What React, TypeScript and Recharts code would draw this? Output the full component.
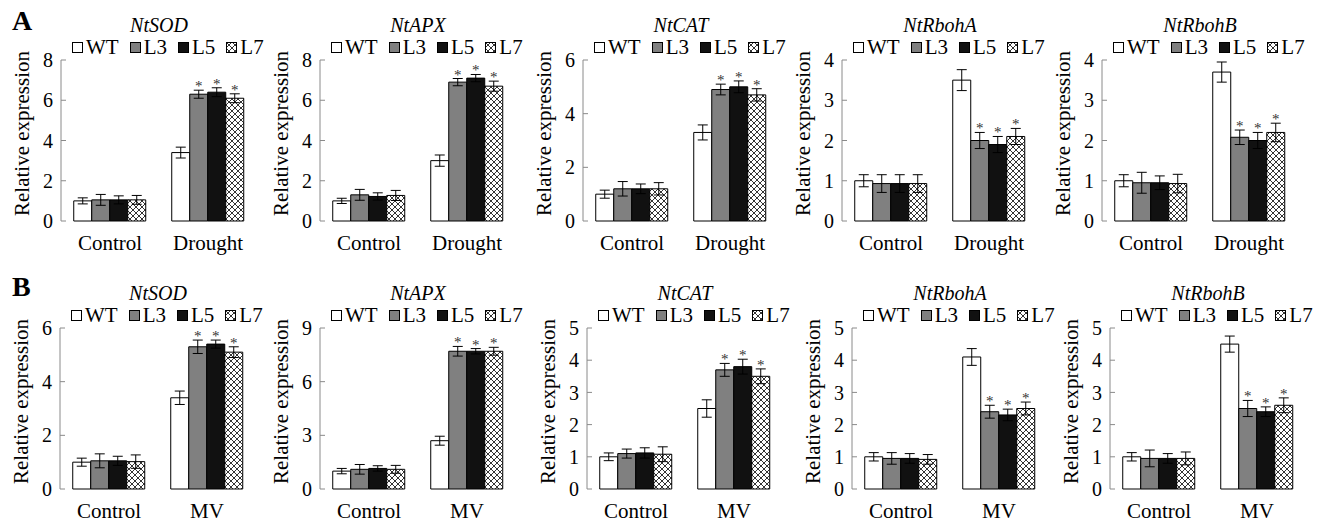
import React from "react";
import { BarChart, Bar, XAxis, YAxis, ErrorBar, LabelList, Legend } from "recharts";

const lines = ["WT", "L3", "L5", "L7"];
const genes = ["NtSOD", "NtAPX", "NtCAT", "NtRbohA", "NtRbohB"];
const starred = ["L3", "L5", "L7"];

// panel A, drought stress (rows = genes, cols = WT, L3, L5, L7)
const droughtCtrlMean = [
  [1.0, 1.05, 1.05, 1.05],
  [1.0, 1.3, 1.22, 1.27],
  [1.0, 1.2, 1.2, 1.2],
  [1.0, 0.93, 0.93, 0.93],
  [1.0, 0.95, 0.95, 0.93],
];
const droughtCtrlErr = [
  [0.15, 0.27, 0.2, 0.22],
  [0.13, 0.27, 0.18, 0.25],
  [0.15, 0.27, 0.18, 0.23],
  [0.15, 0.22, 0.22, 0.22],
  [0.15, 0.26, 0.17, 0.23],
];
const droughtMean = [
  [3.4, 6.3, 6.4, 6.1],
  [3.0, 6.9, 7.1, 6.7],
  [3.3, 4.9, 5.0, 4.7],
  [3.5, 2.0, 1.9, 2.1],
  [3.7, 2.08, 2.0, 2.2],
];
const droughtErr = [
  [0.27, 0.2, 0.22, 0.22],
  [0.28, 0.18, 0.18, 0.25],
  [0.28, 0.2, 0.22, 0.23],
  [0.26, 0.2, 0.2, 0.2],
  [0.25, 0.18, 0.2, 0.23],
];

// panel B, methyl viologen
const mvCtrlMean = [
  [1.0, 1.05, 1.05, 1.02],
  [1.0, 1.1, 1.15, 1.1],
  [1.0, 1.1, 1.12, 1.08],
  [1.0, 0.95, 0.95, 0.92],
  [1.0, 0.95, 0.95, 0.95],
];
const mvCtrlErr = [
  [0.15, 0.26, 0.17, 0.25],
  [0.15, 0.27, 0.15, 0.22],
  [0.12, 0.14, 0.16, 0.23],
  [0.13, 0.18, 0.15, 0.15],
  [0.13, 0.26, 0.15, 0.2],
];
const mvMean = [
  [3.4, 5.3, 5.4, 5.1],
  [2.7, 7.7, 7.7, 7.7],
  [2.5, 3.7, 3.8, 3.5],
  [4.1, 2.4, 2.3, 2.5],
  [4.5, 2.5, 2.4, 2.6],
];
const mvErr = [
  [0.25, 0.25, 0.15, 0.2],
  [0.25, 0.27, 0.15, 0.22],
  [0.27, 0.2, 0.23, 0.23],
  [0.26, 0.2, 0.18, 0.2],
  [0.25, 0.25, 0.15, 0.23],
];

const ticksA = [[0, 2, 4, 6, 8], [0, 2, 4, 6, 8], [0, 2, 4, 6], [0, 1, 2, 3, 4], [0, 1, 2, 3, 4]];
const ticksB = [[0, 2, 4, 6], [0, 3, 6, 9], [0, 1, 2, 3, 4, 5], [0, 1, 2, 3, 4, 5], [0, 1, 2, 3, 4, 5]];

// layout
const axisXA = [61, 320, 583, 842, 1102];
const axisXB = [60, 320, 587, 852, 1110];
const ROW_TOP = [0, 268];
const CH_W = 260;
const CH_H = 262;
const M = { top: 60, right: 4, bottom: 11, left: 30 };
const PLOT_W = CH_W - M.left - 30 - M.right;
const PLOT_H = CH_H - M.top - M.bottom - 30;
const FONT = '"Liberation Serif", "Times New Roman", serif';
const AXIS = "#8a8a8a";

const fills: Record<string, string> = { WT: "#ffffff", L3: "#808080", L5: "#111111", L7: "url(#xhatch)" };

function buildRows(cm: number[], ce: number[], sm: number[], se: number[], stress: string) {
  const ctrl: any = { cat: "Control" };
  const st: any = { cat: stress };
  lines.forEach((l, i) => {
    ctrl[l] = cm[i];
    ctrl[l + "e"] = ce[i];
    st[l] = sm[i];
    st[l + "e"] = se[i];
    if (starred.includes(l)) st[l + "s"] = se[i];
  });
  return [ctrl, st];
}

const YTitle = (props: any) => {
  const { x, y, width, height } = props.viewBox;
  const cx = x + width - 39;
  const cy = y + height / 2 - 7;
  return (
    <text x={cx} y={cy} transform={`rotate(-90 ${cx} ${cy})`} textAnchor="middle" dominantBaseline="central"
      fontFamily={FONT} fontSize={21} fill="#000">
      Relative expression
    </text>
  );
};

const star = (pxPerUnit: number) => (props: any) => {
  const { x, y, width, value } = props;
  if (value == null) return null;
  const top = y - value * pxPerUnit;
  return (
    <text x={x + width / 2} y={top + 1} textAnchor="middle" fontFamily={FONT} fontSize={15} fill="#333">*</text>
  );
};

const Swatch = ({ fill }: { fill: string }) => (
  <svg width={11} height={11} style={{ display: "block" }}>
    <rect x={0.5} y={0.5} width={10} height={10} fill={fill} stroke="#000" strokeWidth={1} />
  </svg>
);

const LegendRow = () => (
  <div style={{ display: "flex", alignItems: "center", fontFamily: FONT, fontSize: 21, lineHeight: "18px", whiteSpace: "nowrap", color: "#000" }}>
    {lines.map((l) => (
      <span key={l} style={{ display: "inline-flex", alignItems: "center", marginRight: 11 }}>
        <Swatch fill={fills[l]} />
        <span style={{ marginLeft: 3 }}>{l}</span>
      </span>
    ))}
  </div>
);

function Panel({ gene, data, ticks, left, top, uid }: any) {
  const yMax = ticks[ticks.length - 1];
  const ppu = PLOT_H / yMax;
  return (
    <div style={{ position: "absolute", left, top, width: CH_W, height: CH_H }}>
      <div style={{ position: "absolute", left: M.left + 30, width: PLOT_W, top: 15, lineHeight: "20px", textAlign: "center", fontFamily: FONT, fontStyle: "italic", fontWeight: "normal", fontSize: 20 }}>
        {gene}
      </div>
      <BarChart width={CH_W} height={CH_H} data={data} margin={M} barCategoryGap="13%" barGap={0}>
        <defs>
          <pattern id="xhatch" patternUnits="userSpaceOnUse" width={6} height={6}>
            <rect width={6} height={6} fill="#fff" />
            <path d="M0,0L6,6M6,0L0,6" stroke="#000" strokeWidth={0.8} />
          </pattern>
        </defs>
        <XAxis xAxisId="tk" type="number" domain={[0, 2]} ticks={[0, 1, 2]} tick={false} tickSize={-6}
          height={0} stroke={AXIS} allowDataOverflow />
        <XAxis xAxisId="cat" dataKey="cat" tickLine={false} axisLine={false} tickSize={0} tickMargin={14} height={30}
          tick={{ fill: "#000", fontFamily: FONT, fontSize: 21 }} interval={0} />
        <YAxis domain={[0, yMax]} ticks={ticks} interval={0} width={30} tickSize={-5} tickMargin={13} stroke={AXIS}
          tick={{ fill: "#000", fontFamily: FONT, fontSize: 20 }} label={<YTitle />} />
        <Legend layout="horizontal" verticalAlign="middle" align="center" content={() => <LegendRow />}
          wrapperStyle={{ top: 38, left: M.left + 41, width: 225, bottom: "auto" }} />
        {lines.map((l) => (
          <Bar key={l + uid} xAxisId="cat" dataKey={l} fill={fills[l]} stroke="#000" strokeWidth={1} isAnimationActive={false}>
            <ErrorBar dataKey={l + "e"} width={5} stroke="#000" strokeWidth={1} direction="y" />
            {starred.includes(l) && <LabelList dataKey={l + "s"} content={star(ppu)} />}
          </Bar>
        ))}
      </BarChart>
    </div>
  );
}

export default function App() {
  const rowA = genes.map((g, i) => buildRows(droughtCtrlMean[i], droughtCtrlErr[i], droughtMean[i], droughtErr[i], "Drought"));
  const rowB = genes.map((g, i) => buildRows(mvCtrlMean[i], mvCtrlErr[i], mvMean[i], mvErr[i], "MV"));
  return (
    <div style={{ position: "absolute", left: 0, top: 0, width: 1320, height: 524, background: "#fff", overflow: "hidden" }}>
      <div style={{ position: "absolute", left: 12, top: 5, fontFamily: FONT, fontWeight: "bold", fontSize: 28 }}>A</div>
      <div style={{ position: "absolute", left: 12, top: 271, fontFamily: FONT, fontWeight: "bold", fontSize: 28 }}>B</div>
      {genes.map((g, i) => (
        <Panel key={"a" + g} gene={g} data={rowA[i]} ticks={ticksA[i]} left={axisXA[i] - 60} top={ROW_TOP[0]} uid={"a" + i} />
      ))}
      {genes.map((g, i) => (
        <Panel key={"b" + g} gene={g} data={rowB[i]} ticks={ticksB[i]} left={axisXB[i] - 60} top={ROW_TOP[1]} uid={"b" + i} />
      ))}
    </div>
  );
}
